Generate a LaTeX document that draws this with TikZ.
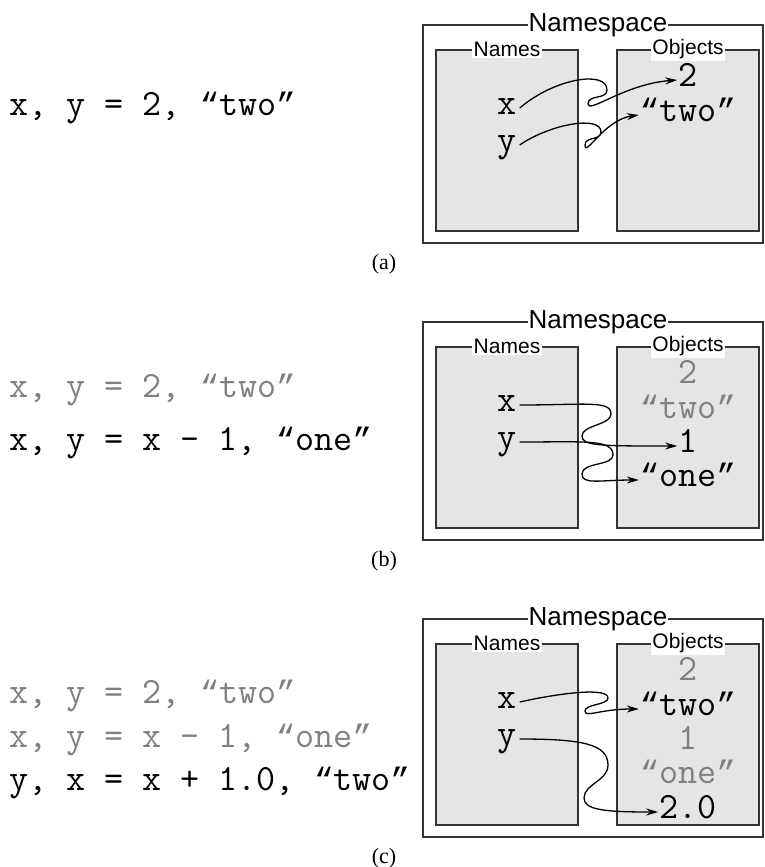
\documentclass[tikz,border=0pt]{standalone}
\usepackage{fontspec}
\setmainfont{Liberation Serif}
\setsansfont{Liberation Sans}
\newfontfamily\quotefont[Scale=0.875]{Liberation Mono}
\newcommand{\oq}{{\quotefont “}}
\newcommand{\cq}{{\quotefont ”}}
\usetikzlibrary{arrows.meta}

\begin{document}
\begin{tikzpicture}[x=1pt,y=-1pt,
  code/.style={font=\ttfamily\fontsize{37}{40}\selectfont,anchor=base west,inner sep=0pt},
  old/.style={text=black!50},
  obj/.style={font=\ttfamily\fontsize{37}{40}\selectfont,anchor=base,inner sep=1pt,text height=12pt,text depth=0pt},
  var/.style={obj,inner sep=3pt},
  frame/.style={draw=black!80,line width=1.5pt,minimum width=340pt,minimum height=218pt},
  panel/.style={draw=black!80,line width=1.5pt,fill=black!10,minimum width=142pt,minimum height=181pt},
  title/.style={font=\sffamily\fontsize{26}{28}\selectfont,fill=white,inner sep=1pt},
  sub/.style={font=\sffamily\fontsize{21}{23}\selectfont,fill=white,inner sep=1.5pt},
  caption/.style={font=\fontsize{22}{24}\selectfont},
  ref/.style={-{Stealth[length=12pt,width=7pt]},line width=1.3pt}]
  \useasboundingbox (0,0) rectangle (764,867);

  \node[frame] at (593,134) (ns-a) {};
  \node[panel] at (507,140.5) (nm-a) {};
  \node[panel] at (688,140.5) (ob-a) {};
  \node[title] at (598,25) (t-a) {Namespace};
  \node[sub] at (nm-a.north) (tn-a) {Names};
  \node[sub] at (ob-a.north) (to-a) {Objects};

  \node[code] at (9,115) (c1-a) {x, y = 2, \oq two\cq};
  \node[var] at (507,114) (x-a) {x};
  \node[var] at (507,151) (y-a) {y};
  \node[obj] at (688,86) (o1-a) {2};
  \node[obj] at (688,121) (o2-a) {\oq two\cq};
  \node[caption] at (384,264) (cap-a) {(a)};

  \draw[ref] (x-a.east) .. controls (555,78) and (607,70) .. (607,90)
    .. controls (607,100) and (588,94) .. (588,104)
    .. controls (588,114) and (625,84) .. (o1-a.west);
  \draw[ref] (y-a.east) .. controls (550,124) and (601,115) .. (601,132)
    .. controls (601,141) and (585,136) .. (585,145)
    .. controls (585,158) and (604,120) .. (o2-a.west);

  \node[frame] at (593,431) (ns-b) {};
  \node[panel] at (507,437.5) (nm-b) {};
  \node[panel] at (688,437.5) (ob-b) {};
  \node[title] at (598,322) (t-b) {Namespace};
  \node[sub] at (nm-b.north) (tn-b) {Names};
  \node[sub] at (ob-b.north) (to-b) {Objects};

  \node[code,old] at (9,397) (c1-b) {x, y = 2, \oq two\cq};
  \node[code] at (9,450) (c2-b) {x, y = x – 1, \oq one\cq};
  \node[var] at (507,411) (x-b) {x};
  \node[var] at (507,448) (y-b) {y};
  \node[obj,old] at (688,383) (o1-b) {2};
  \node[obj,old] at (688,418) (o2-b) {\oq two\cq};
  \node[obj] at (688,452) (o3-b) {1};
  \node[obj] at (688,486) (o4-b) {\oq one\cq};
  \node[caption] at (384,561) (cap-b) {(b)};

  \draw[ref] (x-b.east) .. controls (585,405) and (611,400) .. (611,414)
    .. controls (611,425) and (582,425) .. (582,436)
    .. controls (582,446) and (600,446) .. (o3-b.west);
  \draw[ref] (y-b.east) .. controls (585,442) and (613,439) .. (613,455)
    .. controls (613,466) and (582,462) .. (582,474)
    .. controls (582,485) and (600,480) .. (o4-b.west);

  \node[frame] at (593,728) (ns-c) {};
  \node[panel] at (507,734.5) (nm-c) {};
  \node[panel] at (688,734.5) (ob-c) {};
  \node[title] at (598,619) (t-c) {Namespace};
  \node[sub] at (nm-c.north) (tn-c) {Names};
  \node[sub] at (ob-c.north) (to-c) {Objects};

  \node[code,old] at (9,703) (c1-c) {x, y = 2, \oq two\cq};
  \node[code,old] at (9,747) (c2-c) {x, y = x – 1, \oq one\cq};
  \node[code] at (9,790) (c3-c) {y, x = x + 1.0, \oq two\cq};
  \node[var] at (507,708) (x-c) {x};
  \node[var] at (507,745) (y-c) {y};
  \node[obj,old] at (688,680) (o1-c) {2};
  \node[obj] at (688,715) (o2-c) {\oq two\cq};
  \node[obj,old] at (688,749) (o3-c) {1};
  \node[obj,old] at (688,783) (o4-c) {\oq one\cq};
  \node[obj] at (688,818) (o5-c) {2.0};
  \node[caption] at (384,858) (cap-c) {(c)};

  \draw[ref] (x-c.east) .. controls (560,693) and (608,687) .. (608,698)
    .. controls (608,705) and (585,704) .. (585,711)
    .. controls (585,718) and (600,709) .. (o2-c.west);
  \draw[ref] (y-c.east) .. controls (582,739) and (608,744) .. (608,765)
    .. controls (608,781) and (584,784) .. (584,798)
    .. controls (584,810) and (605,812) .. (o5-c.west);

\end{tikzpicture}
\end{document}
